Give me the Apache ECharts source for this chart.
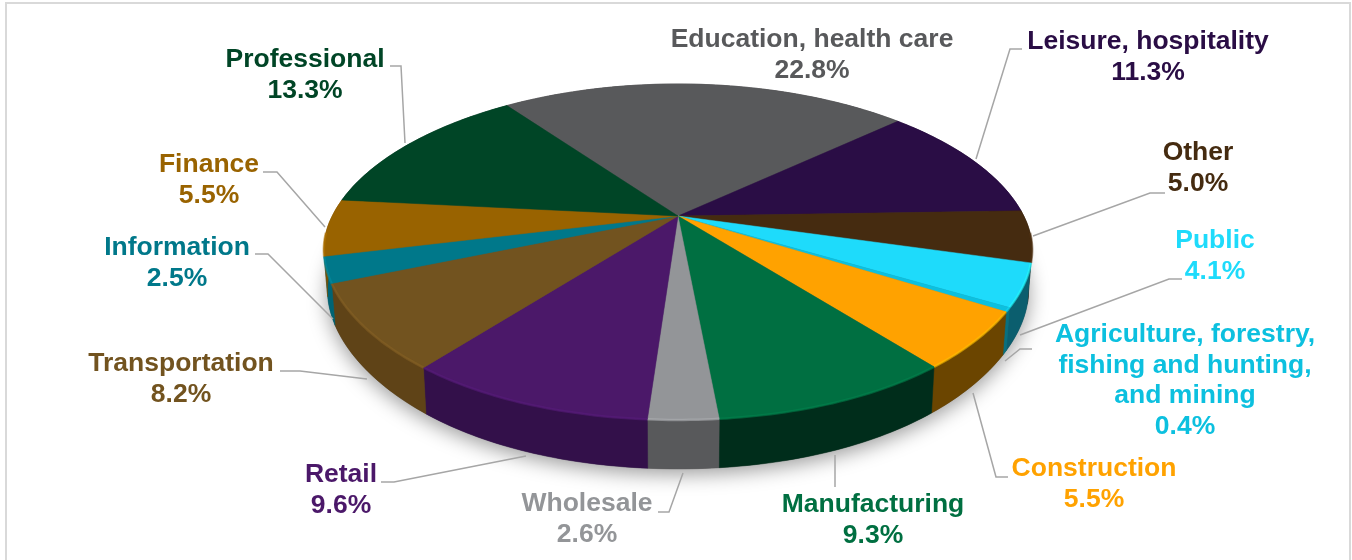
<!DOCTYPE html>
<html>
<head>
<meta charset="utf-8">
<style>html,body{margin:0;padding:0;background:#fff}#chart{width:1352px;height:560px}</style>
<script src="https://cdn.jsdelivr.net/npm/echarts@6/dist/echarts.min.js"></script>
</head>
<body>
<div id="chart"></div>
<script>
// ---- data, clockwise from the Education slice ----
var categories = ['Education, health care','Leisure, hospitality','Other','Public',
  'Agriculture, forestry,\nfishing and hunting,\nand mining','Construction','Manufacturing',
  'Wholesale','Retail','Transportation','Information','Finance','Professional'];
var shares = [22.8,11.3,5.0,4.1,0.4,5.5,9.3,2.6,9.6,8.2,2.5,5.5,13.3];

// ---- styles ----
var topColors = ['#58595b','#2a0d45','#452b10','#1edbfb','#0cc0df','#ffa200','#006f41',
  '#939598','#4b1869','#72531f','#00788a','#996300','#004526'];
var wallColors = ['#3a3b3c','#1c082e','#2e1c0a','#0b5e6e','#08707f','#6b4500','#002d1b',
  '#58595b','#33104a','#5f4317','#006474','#7a4f00','#00331c'];
var labelColors = topColors;

// ---- perspective disc layout ----
var disc = {cx:678, cy:216, a:347, b:160.3, k:0.214, depth:38.5, start:-35.4, lowerX:0.99, sideDrop:2.5, frontPinch:0.02};
function project(thetaDeg, drop){
  var t = thetaDeg*Math.PI/180, s = Math.sin(t), c = Math.cos(t), w = 1 + disc.k*c;
  var dx = disc.a*s/w, s2 = Math.sin(2*t);
  if (c < 0) dx *= 1 - disc.frontPinch*s2*s2;
  if (drop) dx *= disc.lowerX;
  return [disc.cx + dx, disc.cy - disc.b*c/w + disc.sideDrop*s*s + (drop||0)/w];
}
var total = shares.reduce(function(s,v){return s+v;},0);
function angleAt(cum){ return echarts.number.linearMap(cum,[0,total],[disc.start,disc.start+360]); }
function arc(a0,a1,drop){
  var pts=[], n=Math.max(2,Math.ceil(Math.abs(a1-a0)));
  for(var i=0;i<=n;i++) pts.push(project(a0+(a1-a0)*i/n,drop));
  return pts;
}
function sliceRange(idx, value){
  var cum=0; for(var i=0;i<idx;i++) cum+=shares[i];
  return [angleAt(cum),angleAt(cum+value)];
}

// ---- label layout: text centre x, first-line top y, leader path ----
var labelCenterX = [812,1148,1198,1215,1185,1094,873,587,341,181,177,209,305];
var labelTopY    = [24,26,137,225,319,453,489,488,459,348,232,149,44];
var leaders = [
  null,
  [[1022,49],[1010,49],[976,159]],
  [[1165,193],[1150,193],[1033,236]],
  [[1182,279],[1169,279],[1020,335]],
  [[1032,349],[1020,349],[1005,361]],
  [[1008,477],[996,477],[973,393]],
  [[835,487],[835,455]],
  [[658,512],[669,512],[683,473]],
  [[381,482],[394,482],[526,456]],
  [[280,371],[300,371],[367,379]],
  [[255,254],[268,254],[333,319]],
  [[263,172],[277,172],[325,227]],
  [[390,66],[401,66],[405,143]]
];
var frameLine = [[6,560],[6,3],[1350,3],[1350,560]];
var fontStack = '"Liberation Sans", Arial, sans-serif';

function renderShadow(){
  return {type:'polygon',shape:{points:arc(0,360,disc.depth)},
    style:{fill:'#555',shadowBlur:20,shadowColor:'rgba(0,0,0,0.4)',shadowOffsetY:5}};
}
function renderWall(params,api){
  var i=params.dataIndex, r=sliceRange(i,api.value(0));
  var upper=arc(r[0],r[1],0), lower=arc(r[0],r[1],disc.depth).reverse();
  var c=wallColors[i];
  return {type:'polygon',shape:{points:upper.concat(lower)},
    style:{fill:c,stroke:c,lineWidth:0.5}};
}
function renderTop(params,api){
  var i=params.dataIndex, r=sliceRange(i,api.value(0));
  var c=topColors[i];
  var kids=[{type:'polygon',shape:{points:[[disc.cx,disc.cy]].concat(arc(r[0],r[1],0))},
    style:{fill:c,stroke:c,lineWidth:0.5}}];
  var a0=Math.max(r[0],95), a1=Math.min(r[1],265);
  if(a1>a0){
    kids.push({type:'polyline',shape:{points:arc(a0,a1,0)},
      style:{fill:null,stroke:echarts.color.lift(c,-0.2),lineWidth:2.5,opacity:0.55}});
  }
  return {type:'group',children:kids};
}
function renderLabel(params,api){
  var i=params.dataIndex, kids=[];
  if(leaders[i]) kids.push({type:'polyline',shape:{points:leaders[i]},
    style:{fill:null,stroke:'#a6a6a6',lineWidth:1.5}});
  kids.push({type:'text',style:{
    text:categories[i]+'\n'+api.value(0).toFixed(1)+'%',
    x:labelCenterX[i],y:labelTopY[i],align:'center',verticalAlign:'top',
    fill:labelColors[i],fontFamily:fontStack,fontWeight:'bold',fontSize:26.5,lineHeight:30.8}});
  return {type:'group',children:kids};
}
function seriesOf(fn,z,data){
  return {type:'custom',coordinateSystem:'none',renderItem:fn,data:data,z:z,silent:true,animation:false};
}
var rows = shares.map(function(v,i){return {name:categories[i],value:v};});
var chart = echarts.init(document.getElementById('chart'),null,{renderer:'canvas'});
chart.setOption({
  backgroundColor:'#ffffff',
  animation:false,
  tooltip:{show:false},
  graphic:[{type:'polyline',silent:true,shape:{points:frameLine},
    style:{fill:null,stroke:'#d9d9d9',lineWidth:2}}],
  series:[
    seriesOf(renderLabel,5,rows),
    seriesOf(renderShadow,1,[total]),
    seriesOf(renderWall,2,rows),
    seriesOf(renderTop,3,rows)
  ]
});
</script>
</body>
</html>
